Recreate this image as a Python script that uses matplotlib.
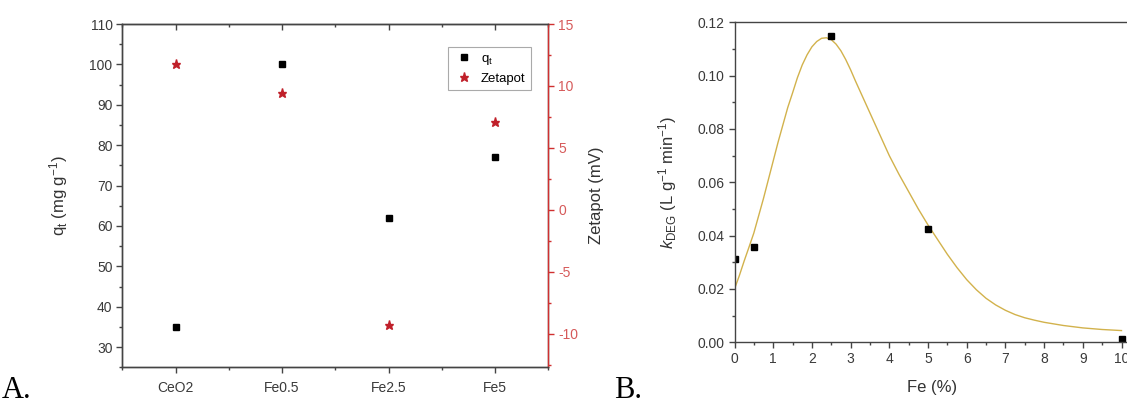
import numpy as np
import matplotlib
matplotlib.use("Agg")
import matplotlib.pyplot as plt
from matplotlib.ticker import MultipleLocator, FormatStrFormatter

plt.rcParams['font.family'] = ['Liberation Sans', 'DejaVu Sans']
plt.rcParams['mathtext.fontset'] = 'custom'
plt.rcParams['mathtext.rm'] = 'Liberation Sans'
plt.rcParams['mathtext.it'] = 'Liberation Sans:italic'
plt.rcParams['axes.unicode_minus'] = False

# panel A data
samples = ['CeO2', 'Fe0.5', 'Fe2.5', 'Fe5']
qt = [35, 100, 62, 77]
zetapot = [11.8, 9.45, -9.3, 7.1]

# panel B data
fe_pct = [0, 0.5, 2.5, 5, 10]
k_deg = [0.0311, 0.0356, 0.1149, 0.0425, 0.0011]

# fitted curve
fit_x = [0, 0.125, 0.25, 0.375, 0.5, 0.625, 0.75, 0.875, 1.0, 1.125, 1.25,
         1.375, 1.5, 1.625, 1.75, 1.875, 2.0, 2.125, 2.25, 2.375, 2.5,
         2.625, 2.75, 2.875, 3.0, 3.125, 3.25, 3.375, 3.5, 3.625, 3.75,
         3.875, 4.0, 4.25, 4.5, 4.75, 5.0, 5.25, 5.5, 5.75, 6.0, 6.25, 6.5,
         6.75, 7.0, 7.25, 7.5, 7.75, 8.0, 8.5, 9.0, 9.5, 10.0]
fit_y = [0.020, 0.025, 0.0305, 0.0357, 0.041, 0.0475, 0.054, 0.061, 0.068,
         0.075, 0.0815, 0.088, 0.0935, 0.0992, 0.104, 0.1078, 0.1108,
         0.1128, 0.1140, 0.1142, 0.1135, 0.1118, 0.1093, 0.106, 0.1022,
         0.098, 0.094, 0.090, 0.086, 0.082, 0.078, 0.074, 0.070, 0.063,
         0.0565, 0.050, 0.044, 0.0385, 0.033, 0.028, 0.0235, 0.0197,
         0.0165, 0.014, 0.012, 0.0104, 0.0092, 0.0083, 0.0075, 0.0063,
         0.0054, 0.0048, 0.0044]

W, H = 1127, 407
fig = plt.figure(figsize=(W / 100, H / 100), dpi=100)

spine_col = '#444444'
tick_col = '#444444'
red = '#d03030'
red_lbl = '#d65a5a'
tick_fs = 10
label_fs = 12

def style_ax(ax):
    for s in ax.spines.values():
        s.set_color(spine_col)
        s.set_linewidth(1.0)
    ax.tick_params(colors=tick_col, labelcolor='#3a3a3a', labelsize=tick_fs,
                   length=4, width=1, pad=3)
    ax.tick_params(which='minor', length=2.5, width=1, colors=tick_col)

# ---- panel A ----
axA = fig.add_axes([122.3 / W, (H - 367.3) / H, 426 / W, 343.3 / H])
style_ax(axA)
xs = np.arange(len(samples))
h1, = axA.plot(xs, qt, 's', color='black', markersize=5, label='q$_\\mathrm{t}$')
axA.set_xlim(-0.5, 3.5)
axA.set_ylim(25, 110)
axA.set_xticks(xs)
axA.set_xticklabels(samples)
axA.xaxis.set_minor_locator(MultipleLocator(0.5))
axA.yaxis.set_major_locator(MultipleLocator(10))
axA.yaxis.set_minor_locator(MultipleLocator(5))
axA.tick_params(axis='x', which='both', top=False, pad=6)
axA.set_ylabel('q$_\\mathrm{t}$ (mg g$^{-1}$)', fontsize=label_fs,
               color='#333333')
axA.yaxis.set_label_coords(-(122.3 - 70) / 426, 0.5)

axZ = axA.twinx()
style_ax(axZ)
axZ.spines['right'].set_color(red)
h2, = axZ.plot(xs, zetapot, '*', color='#c0202a', markersize=6.5,
               label='Zetapot')
axZ.set_ylim(-12.7, 15)
axZ.yaxis.set_major_locator(MultipleLocator(5))
axZ.yaxis.set_minor_locator(MultipleLocator(2.5))
axZ.tick_params(axis='y', which='both', colors=red, labelcolor=red_lbl)
axZ.set_ylabel('Zetapot (mV)', fontsize=label_fs, color='#333333')
axZ.yaxis.set_label_coords(1 + 41 / 426, 0.5)

# top ticks pointing in
axT = axA.secondary_xaxis('top')
axT.set_xticks(xs)
axT.set_xticklabels([])
axT.xaxis.set_minor_locator(MultipleLocator(0.5))
axT.tick_params(which='both', direction='in', colors=tick_col, width=1)
axT.tick_params(which='major', length=4)
axT.tick_params(which='minor', length=2.5)
axT.spines['top'].set_color(spine_col)

leg = axA.legend(handles=[h1, h2], loc='upper right',
                 bbox_to_anchor=(0.959, 0.933), fontsize=9.5, fancybox=False,
                 edgecolor='#aaaaaa', framealpha=1, borderaxespad=0,
                 handletextpad=0.5, borderpad=0.4, labelspacing=0.45,
                 handlelength=1.6)
leg.get_frame().set_linewidth(0.8)

# ---- panel B ----
axB = fig.add_axes([734.5 / W, (H - 342.3) / H, 10.5 * 38.7 / W, 320 / H])
style_ax(axB)
axB.plot(fit_x, fit_y, '-', color='#d2b24c', linewidth=1.0)
axB.plot(fe_pct, k_deg, 's', color='black', markersize=5)
axB.set_xlim(0, 10.5)
axB.set_ylim(0, 0.12)
axB.xaxis.set_minor_locator(MultipleLocator(0.5))
axB.yaxis.set_major_locator(MultipleLocator(0.02))
axB.yaxis.set_minor_locator(MultipleLocator(0.01))
axB.yaxis.set_major_formatter(FormatStrFormatter('%.2f'))
axB.set_xticks(range(11))
axB.set_xlabel('Fe (%)', fontsize=label_fs, color='#333333')
axB.xaxis.set_label_coords((932 - 734.5) / (10.5 * 38.7), -38 / 320)
axB.set_ylabel('$k_{\\mathrm{DEG}}$ (L g$^{-1}$ min$^{-1}$)',
               fontsize=label_fs, color='#333333')
axB.yaxis.set_label_coords(-(734.5 - 679) / (10.5 * 38.7), 0.5)

# panel letters
fig.text(2 / W, 2 / H, 'A.', family='Liberation Serif', fontsize=22,
         ha='left', va='bottom')
fig.text(614 / W, 2 / H, 'B.', family='Liberation Serif', fontsize=22,
         ha='left', va='bottom')

fig.savefig('out.png', dpi=100)
